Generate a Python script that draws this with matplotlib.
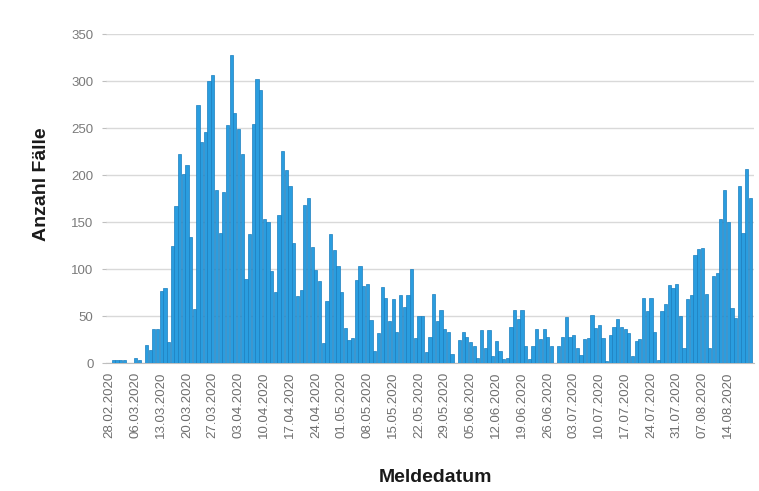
import datetime as dt
import numpy as np
import matplotlib
matplotlib.use("Agg")
import matplotlib.pyplot as plt

# daily case counts from 28.02.2020
start = dt.date(2020, 2, 28)
faelle = [
    0, 4, 4, 4, 3, 0, 0, 6, 3, 0,
    19, 14, 36, 36, 77, 80, 23, 125, 167, 223,
    201, 211, 134, 58, 275, 235, 246, 300, 307, 184,
    139, 182, 253, 328, 266, 249, 223, 90, 138, 255,
    302, 291, 154, 150, 98, 76, 158, 226, 206, 189,
    128, 72, 78, 168, 176, 124, 99, 88, 22, 66,
    138, 121, 103, 76, 38, 25, 27, 89, 103, 82,
    84, 46, 13, 32, 81, 69, 45, 68, 33, 73,
    60, 73, 100, 27, 50, 50, 12, 28, 74, 45,
    57, 37, 33, 10, 0, 25, 33, 28, 23, 18,
    6, 35, 16, 35, 8, 24, 13, 5, 6, 39,
    57, 47, 57, 18, 5, 18, 37, 26, 37, 28,
    18, 0, 18, 28, 49, 28, 30, 16, 9, 26,
    27, 51, 38, 41, 27, 2, 30, 39, 47, 39,
    36, 32, 8, 24, 26, 70, 56, 70, 33, 4,
    56, 63, 83, 80, 84, 50, 16, 68, 73, 115,
    122, 123, 74, 16, 93, 96, 154, 184, 150, 59,
    48, 189, 139, 207, 176,
]
tage = np.arange(len(faelle))
tick_pos = tage[::7]
tick_lab = [(start + dt.timedelta(days=int(d))).strftime("%d.%m.%Y") for d in tick_pos]

plt.rcParams['font.family'] = ['Liberation Sans', 'DejaVu Sans']

fig = plt.figure(figsize=(7.59, 4.91), dpi=100)
ax = fig.add_axes([106/759, 1 - 363.3/491, 648/759, 329/491])

ax.bar(tage, faelle, width=0.88, color='#2a9ddf', edgecolor='#1b7fbf', linewidth=0.5, zorder=3)

ax.set_xlim(-1, 175)
ax.set_ylim(0, 350)
ax.set_yticks(range(0, 351, 50))
ax.set_xticks(tick_pos)
ax.set_xticklabels(tick_lab, rotation=90, fontsize=9.5, color='#6e6e6e')
ax.tick_params(axis='y', labelsize=9.5, labelcolor='#7a7a7a', length=3, color='#bfbfbf', pad=6)
ax.tick_params(axis='x', length=0, pad=6)
ax.grid(axis='y', color='#d9d9d9', linewidth=1, zorder=0)
for s in ['top', 'right', 'left']:
    ax.spines[s].set_visible(False)
ax.spines['bottom'].set_color('#bfbfbf')

fig.text(42/759, 1 - 184/491, 'Anzahl Fälle', rotation=90, ha='center', va='center',
         fontsize=14, fontweight='bold', color='#1a1a1a')
fig.text(436/759, 1 - 478/491, 'Meldedatum', ha='center', va='center',
         fontsize=14, fontweight='bold', color='#1a1a1a')

fig.savefig('out.png', dpi=100)
